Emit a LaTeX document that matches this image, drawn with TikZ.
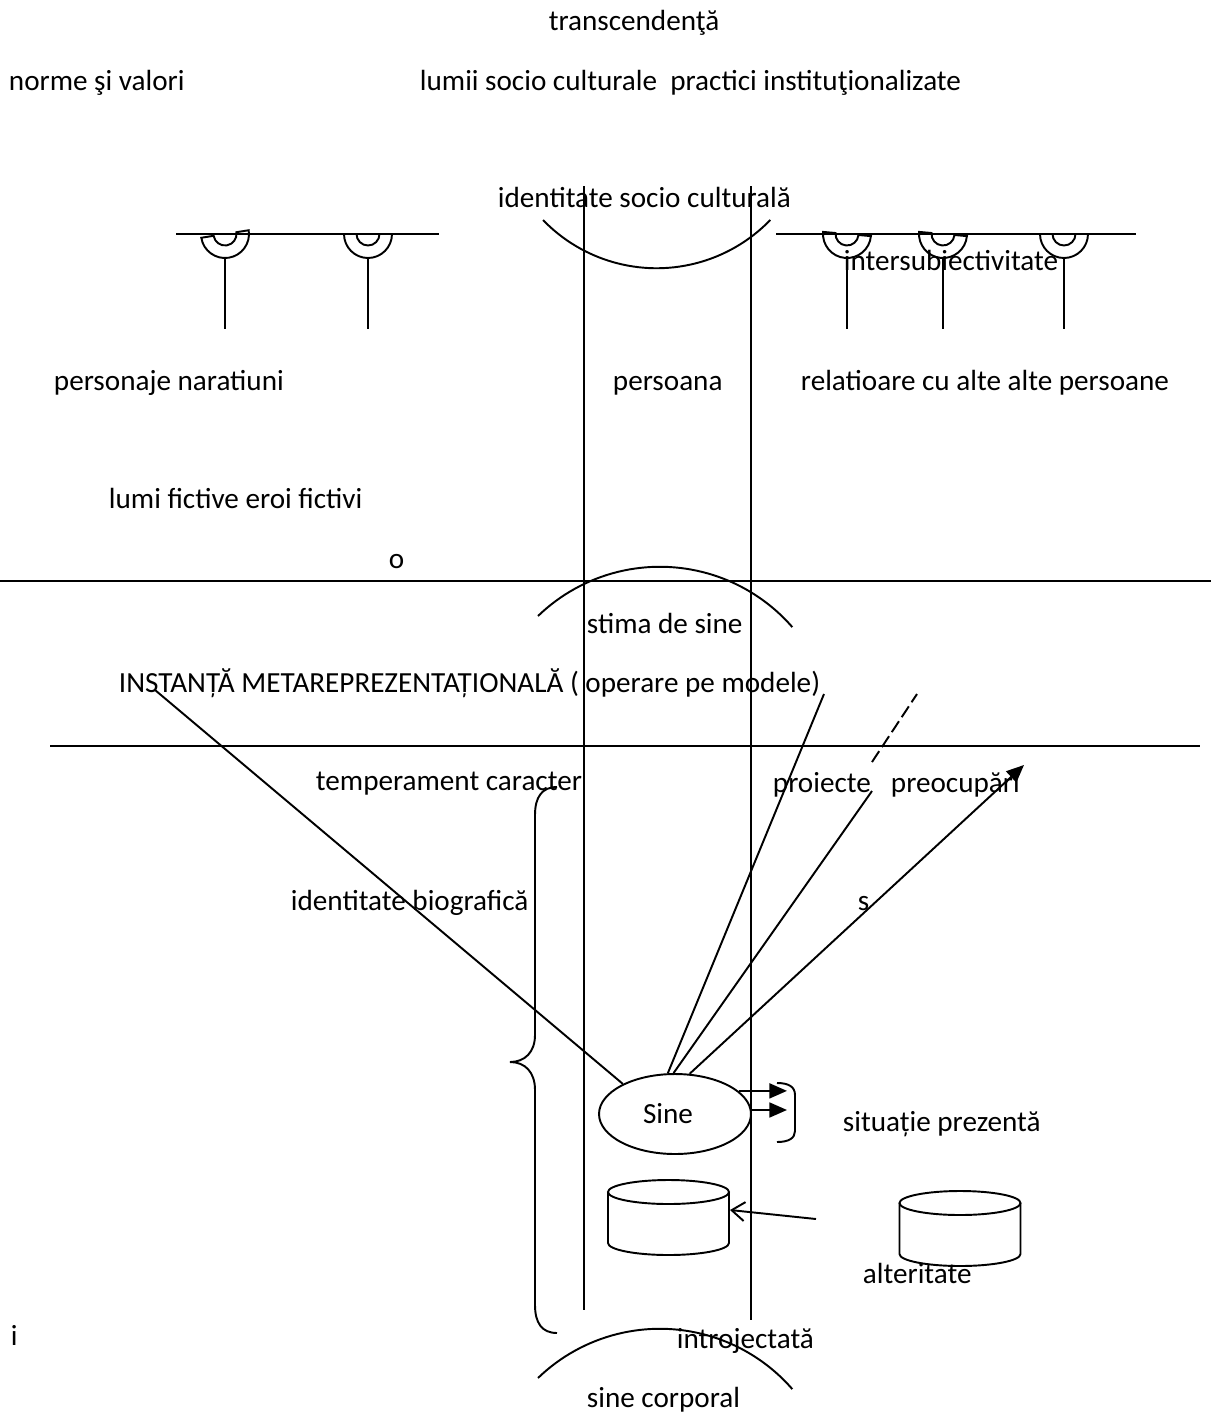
\documentclass[tikz,border=0pt]{standalone}
\usepackage{fontspec}
\setmainfont{Carlito}
\usetikzlibrary{arrows.meta,shapes.geometric}

\begin{document}
\begin{tikzpicture}[x=0.02cm,y=-0.02cm,line width=1.1pt,
  lbl/.style={anchor=base west,inner sep=0pt,font=\fontsize{16.6}{20}\selectfont},
  selfnode/.style={draw,ellipse,minimum width=3.04cm,minimum height=1.6cm,inner sep=0pt,font=\fontsize{16.6}{20}\selectfont},
  arr/.style={-{Triangle[length=10pt,width=8.5pt]}},
  barb/.style={-{Straight Barb[length=7.4pt,width=10.8pt]}},
  dashseg/.style={dash pattern=on 7.4pt off 2.8pt},
  sock/.pic={\draw[rotate=#1] (-24,0) arc[start angle=180,end angle=360,radius=0.48cm] -- (11.5,0) arc[start angle=0,end angle=-180,radius=0.23cm] -- cycle;
    \draw (0,24) -- (0,95);},
  drum/.pic={\draw (0,0) ellipse[x radius=1.21cm,y radius=0.24cm];
    \draw (-60.5,0) -- (-60.5,51) arc[start angle=180,end angle=360,x radius=1.21cm,y radius=0.24cm] -- (60.5,0);}]
  \useasboundingbox (0,0) rectangle (1211,1418);
  % labels
  \node[lbl,anchor=base] (transc) at (634,30) {transcendenţă};
  \node[lbl] (norme) at (8,90) {norme şi valori};
  \node[lbl] (lumii) at (419,90) {lumii socio culturale\ \ practici instituţionalizate};
  \node[lbl] (idsoc) at (497,207) {identitate socio culturală};
  \node[lbl] (intersub) at (843,270) {intersubiectivitate};
  \node[lbl] (personaje) at (53,390) {personaje naratiuni};
  \node[lbl] (persoana) at (612,390) {persoana};
  \node[lbl] (relatii) at (800,390) {relatioare cu alte alte persoane};
  \node[lbl] (fictiv) at (108,508) {lumi fictive eroi fictivi};
  \node[lbl] (litO) at (388,568) {o};
  \node[lbl] (stima) at (586,633) {stima de sine};
  \node[lbl] (instanta) at (118,692) {INSTANȚĂ METAREPREZENTAȚIONALĂ ( operare pe modele)};
  \node[lbl] (temper) at (315,790) {temperament caracter};
  \node[lbl] (proiecte) at (772,792) {proiecte};
  \node[lbl] (preocup) at (890,792) {preocupări};
  \node[lbl] (idbio) at (290,910) {identitate biografică};
  \node[lbl] (litS) at (857,910) {s};
  \node[selfnode] (sine) at (675,1114) {\hspace*{-0.28cm}Sine};
  \node[lbl] (situatie) at (842,1131) {situație prezentă};
  \node[lbl] (alter) at (862,1283) {alteritate};
  \node[lbl] (litI) at (10,1345) {i};
  \node[lbl] (introj) at (676,1348) {introjectată};
  \node[lbl] (corporal) at (586,1407) {sine corporal};
  % frame lines
  \draw (584,186) -- (584,1310); \draw (751,186) -- (751,1320);
  \draw (0,581) -- (1211,581); \draw (50,746) -- (1200,746);
  \draw (176,234) -- (439,234); \draw (776,234) -- (1136,234);
  \pic at (225,234) {sock=9}; \pic at (368,234) {sock=0};
  \pic at (847,234) {sock=-5}; \pic at (943,234) {sock=-5}; \pic at (1064,234) {sock=0};
  % arcs
  \draw (543,220) arc[start angle=224,end angle=316,radius=3.16cm];
  \draw (538,616) arc[start angle=134,end angle=41,radius=3.51cm];
  \draw (538,1378) arc[start angle=134,end angle=41,radius=3.51cm];
  % braces
  \draw (557,787) .. controls (542,787) and (535,797) .. (535,815) -- (535,1035) .. controls (535,1052) and (525,1062) .. (510,1062)
    .. controls (525,1062) and (535,1072) .. (535,1090) -- (535,1305) .. controls (535,1323) and (542,1333) .. (557,1333);
  \draw (777,1083) .. controls (789,1083) and (795,1087) .. (795,1095) -- (795,1131) .. controls (795,1138) and (789,1142) .. (777,1142);
  % cylinders
  \pic at (668.5,1192) {drum}; \pic at (960,1203) {drum};
  % connectors
  \coordinate (instEnd) at (155,690); \coordinate (modEnd) at (824,694);
  \coordinate (proiLow) at (872,791); \coordinate (dashLow) at (872,762); \coordinate (dashTop) at (917,694);
  \coordinate (preoTip) at (1024,765); \coordinate (sitTip) at (787,1100);
  \coordinate (drumIn) at (730,1210); \coordinate (altStart) at (816,1219);
  \draw (sine.150) -- (instEnd); \draw (sine.100) -- (modEnd); \draw (sine.92) -- (proiLow);
  \draw[dashseg] (dashLow) -- (dashTop);
  \draw[arr] (sine.70) -- (preoTip);
  \draw[arr] (sine.20) -- (sine.20 -| sitTip); \draw[arr] (sine.3) -- (sine.3 -| sitTip);
  \draw[barb] (altStart) -- (drumIn);
\end{tikzpicture}
\end{document}
